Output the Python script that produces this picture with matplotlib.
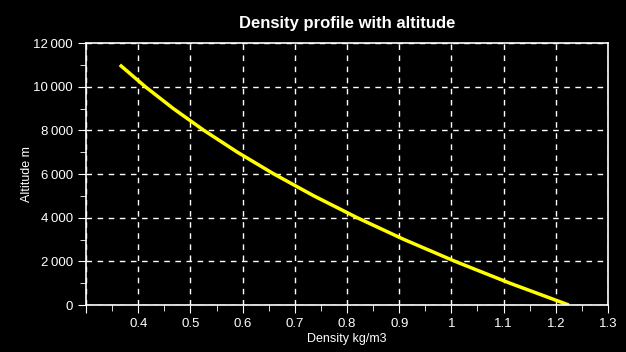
import matplotlib
matplotlib.use("Agg")
from matplotlib import pyplot as plt
from matplotlib.ticker import MultipleLocator, FuncFormatter

# standard atmosphere, troposphere
altitude = [0, 1000, 2000, 3000, 4000, 5000, 6000, 7000, 8000, 9000, 10000, 11000]
density = [1.225, 1.112, 1.007, 0.9093, 0.8194, 0.7364, 0.6601, 0.5900, 0.5258, 0.4671, 0.4135, 0.3648]

plt.rcParams['font.family'] = ['Liberation Sans', 'DejaVu Sans']

fig = plt.figure(figsize=(6.26, 3.52), dpi=100, facecolor='black')
ax = fig.add_axes([0.1374, 0.1335, 0.9712 - 0.1374, 0.8778 - 0.1335])
ax.set_facecolor('black')

ax.plot(density, altitude, color='#ffff00', lw=2.5, solid_capstyle='butt')

ax.set_xlim(0.3, 1.3)
ax.set_ylim(0, 12000)
ax.xaxis.set_major_locator(MultipleLocator(0.1))
ax.xaxis.set_minor_locator(MultipleLocator(0.05))
ax.yaxis.set_major_locator(MultipleLocator(2000))
ax.yaxis.set_minor_locator(MultipleLocator(1000))

def fx(v, pos):
    if v < 0.35:
        return ''
    s = '%.1f' % v
    if s.endswith('.0'):
        s = s[:-2]
    return s

def fy(v, pos):
    return '{:,.0f}'.format(v).replace(',', '\u2009')

ax.xaxis.set_major_formatter(FuncFormatter(fx))
ax.yaxis.set_major_formatter(FuncFormatter(fy))

ax.grid(True, which='major', color='white', ls=(0, (4, 4)), lw=1)
for s in ax.spines.values():
    s.set_color('white')
    s.set_linewidth(1.2)
ax.tick_params(which='both', colors='white', direction='out', labelsize=9.5)
ax.tick_params(which='major', length=6)
ax.tick_params(which='minor', length=4)

ax.set_title('Density profile with altitude', color='white', fontsize=12, fontweight='bold', pad=11)
ax.set_xlabel('Density kg/m3', color='white', fontsize=9, labelpad=2)
ax.set_ylabel('Altitude m', color='white', fontsize=9, labelpad=0)

fig.savefig('out.png', dpi=100, facecolor='black')
